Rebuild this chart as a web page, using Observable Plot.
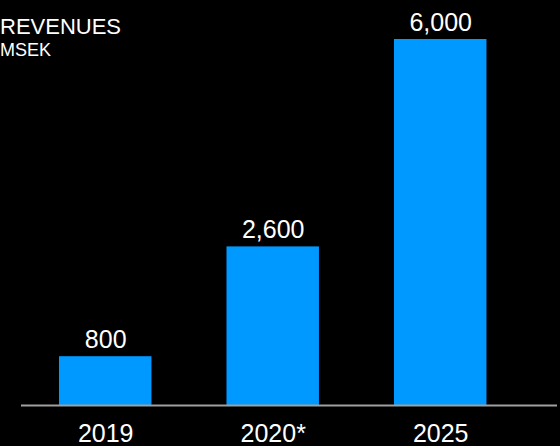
<!DOCTYPE html>
<html>
<head>
<meta charset="utf-8">
<script src="https://cdn.jsdelivr.net/npm/d3@7"></script>
<script src="https://cdn.jsdelivr.net/npm/@observablehq/plot@0.6"></script>
<style>
  html, body { margin: 0; padding: 0; background: #000; }
  #wrap { position: relative; width: 560px; height: 446px; overflow: hidden; background: #000; }
  .title { position: absolute; left: 0px; top: 16px; color: #fff; font-family: "Liberation Sans", Arial, sans-serif; font-size: 22px; line-height: 1; }
  .sub { position: absolute; left: 0px; top: 41px; color: #fff; font-family: "Liberation Sans", Arial, sans-serif; font-size: 18px; line-height: 1; }
</style>
</head>
<body>
<div id="wrap">
  <div id="chart"></div>
  <div class="title">REVENUES</div>
  <div class="sub">MSEK</div>
</div>
<script>
const years = ["2019", "2020*", "2025"];
const revenues = [800, 2600, 6000];
const valueLabels = ["800", "2,600", "6,000"];

const data = years.map((y, i) => ({year: y, value: revenues[i], label: valueLabels[i]}));

const chart = Plot.plot({
  width: 560,
  height: 446,
  marginLeft: 21,
  marginRight: 3,
  marginTop: 39,
  marginBottom: 41,
  style: {background: "#000", color: "#fff", fontFamily: "Liberation Sans, Arial, sans-serif"},
  x: {domain: years, paddingInner: 0.448, paddingOuter: 0.324, align: 0.35, round: false, label: null},
  y: {domain: [0, 6000], axis: null},
  marks: [
    Plot.barY(data, {x: "year", y: "value", fill: "#0099ff"}),
    Plot.ruleY([0], {stroke: "#a0a0a0", strokeWidth: 2}),
    Plot.text(data, {x: "year", y: "value", text: "label", fill: "#fff", fontSize: 25, lineAnchor: "bottom", dy: -9}),
    Plot.axisX({tickSize: 0, tickPadding: 19, fontSize: 25, fill: "#fff", label: null})
  ]
});
document.getElementById("chart").appendChild(chart);
</script>
</body>
</html>
